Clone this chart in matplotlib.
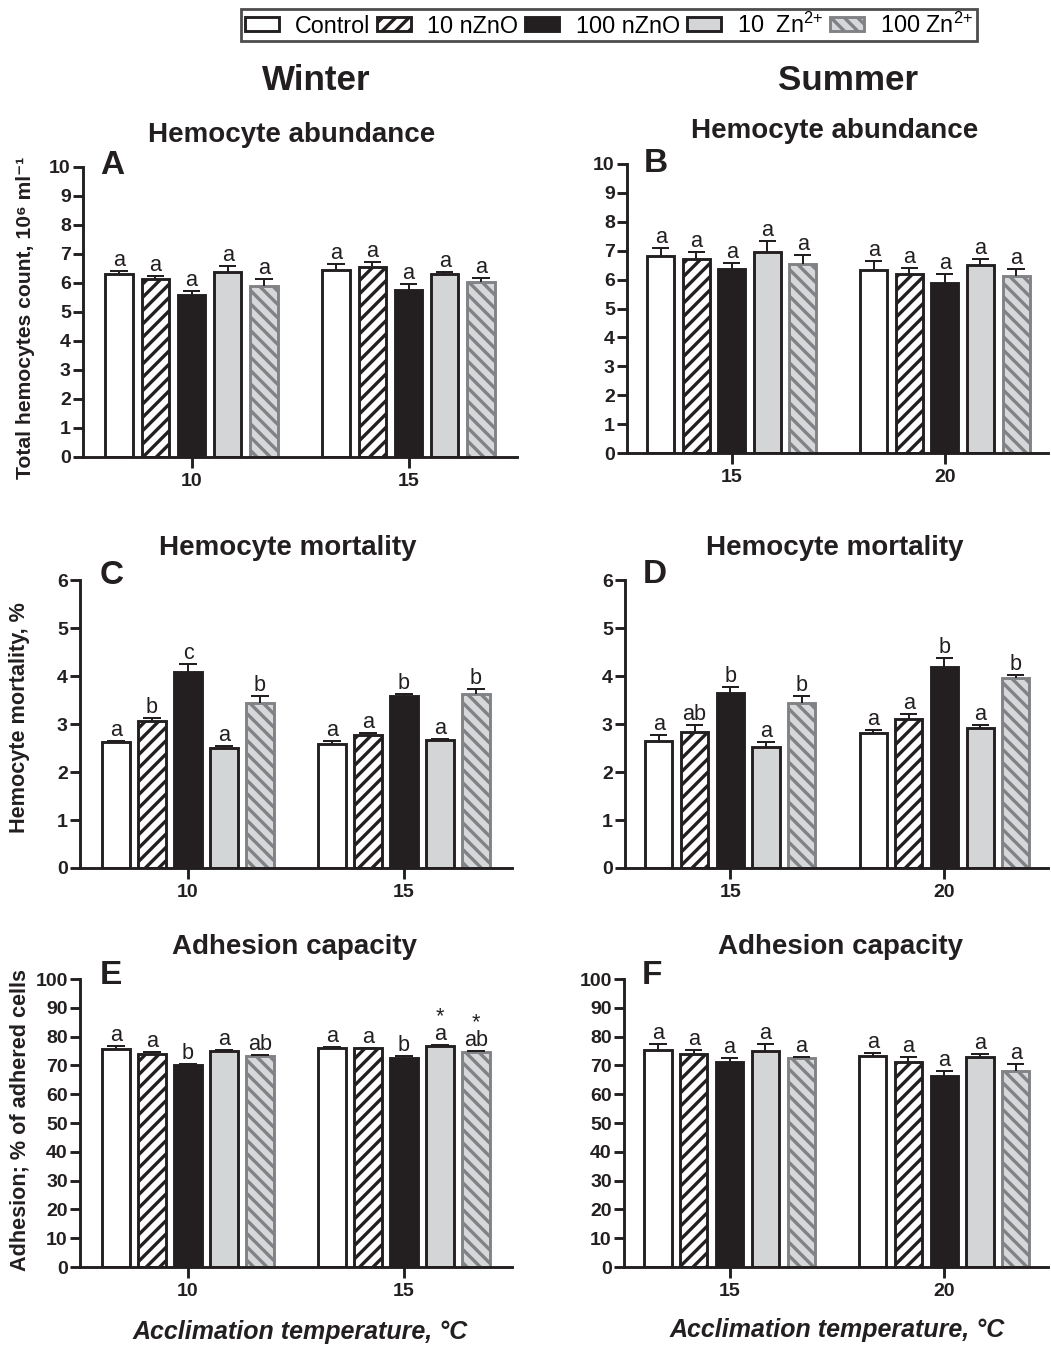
import numpy as np
import matplotlib.pyplot as plt
from matplotlib.patches import Patch

plt.rcParams['font.family'] = ['Liberation Sans', 'DejaVu Sans']
plt.rcParams['mathtext.fontset'] = 'custom'
plt.rcParams['mathtext.rm'] = 'Liberation Sans'
plt.rcParams['mathtext.it'] = 'Liberation Sans:italic'
plt.rcParams['mathtext.bf'] = 'Liberation Sans:bold'
plt.rcParams['mathtext.default'] = 'regular'
plt.rcParams['hatch.linewidth'] = 3.0

W, H, DPI = 1052, 1345, 80
ink = '#231f20'
gray_edge = '#808285'

# ---- data ----
treatments = ['Control', '10 nZnO', '100 nZnO', '10  Zn$^{2{+}}$', '100 Zn$^{2{+}}$']
temps_winter = ['10', '15']
temps_summer = ['15', '20']

abund_w = [[6.30, 6.15, 5.57, 6.37, 5.88], [6.45, 6.55, 5.75, 6.32, 6.02]]
abund_w_err = [[0.10, 0.08, 0.14, 0.22, 0.25], [0.20, 0.18, 0.20, 0.05, 0.14]]
abund_s = [[6.81, 6.72, 6.35, 6.95, 6.55], [6.33, 6.19, 5.89, 6.51, 6.13]]
abund_s_err = [[0.27, 0.23, 0.23, 0.39, 0.29], [0.32, 0.22, 0.30, 0.20, 0.23]]

mort_w = [[2.62, 3.07, 4.08, 2.51, 3.44], [2.58, 2.78, 3.58, 2.66, 3.63]]
mort_w_err = [[0.02, 0.06, 0.16, 0.04, 0.14], [0.06, 0.03, 0.05, 0.03, 0.10]]
mort_s = [[2.64, 2.83, 3.64, 2.52, 3.43], [2.82, 3.11, 4.19, 2.91, 3.95]]
mort_s_err = [[0.14, 0.14, 0.13, 0.11, 0.16], [0.06, 0.09, 0.18, 0.06, 0.07]]

adh_w = [[75.6, 74.1, 70.1, 75.1, 73.3], [76.2, 75.9, 72.7, 76.9, 74.7]]
adh_w_err = [[1.0, 0.5, 0.4, 0.2, 0.2], [0.2, 0.3, 0.7, 0.3, 0.2]]
adh_s = [[75.3, 74.0, 71.3, 75.1, 72.5], [73.2, 71.3, 66.3, 73.0, 68.1]]
adh_s_err = [[2.2, 1.3, 1.4, 2.4, 0.3], [1.0, 1.7, 1.8, 1.0, 2.4]]

all_a = [['a'] * 5, ['a'] * 5]
mort_w_let = [['a', 'b', 'c', 'a', 'b'], ['a', 'a', 'b', 'a', 'b']]
mort_s_let = [['a', 'ab', 'b', 'a', 'b'], ['a', 'a', 'b', 'a', 'b']]
adh_w_let = [['a', 'a', 'b', 'a', 'ab'], ['a', 'a', 'b', '*\na', '*\nab']]

styles = [
    dict(facecolor='white', edgecolor=ink),
    dict(facecolor='white', edgecolor=ink, hatch='//'),
    dict(facecolor=ink, edgecolor=ink),
    dict(facecolor='#d4d5d7', edgecolor=ink),
    dict(facecolor='#d6d7d9', edgecolor=gray_edge, hatch='\\\\'),
]


def box(x0, x1, ytop, ybot):
    return [x0 / W, 1 - ybot / H, (x1 - x0) / W, (ybot - ytop) / H]


def ftext(x, y, s, **kw):
    fig.text(x / W, 1 - y / H, s, **kw)


def panel(ax, vals, errs, letters, temps, ymax, ystep, xlim):
    for g in range(2):
        for i in range(5):
            x = g * 6 + (i - 2)
            v, e = vals[g][i], errs[g][i]
            ax.bar(x, v, width=0.76, linewidth=2.6, zorder=1, **styles[i])
            ax.vlines(x, v, v + e, color=ink, lw=1.8, zorder=2)
            ax.hlines(v + e, x - 0.24, x + 0.24, color=ink, lw=1.8, zorder=2)
            ax.annotate(letters[g][i], (x, v + e), xytext=(0, 0),
                        textcoords='offset points', ha='center', va='bottom',
                        fontsize=19.5, linespacing=0.8, color=ink)
    ax.set_xlim(*xlim)
    ax.set_ylim(0, ymax)
    ax.set_yticks(np.arange(0, ymax + ystep / 2, ystep))
    ax.set_xticks([0, 6])
    ax.set_xticklabels(temps)
    for s in ['top', 'right']:
        ax.spines[s].set_visible(False)
    for s in ['left', 'bottom']:
        ax.spines[s].set_linewidth(2.6)
        ax.spines[s].set_color(ink)
    ax.tick_params(axis='y', width=2.6, length=9, pad=2, labelsize=17.5, color=ink)
    ax.tick_params(axis='x', width=2.6, length=10, pad=4, labelsize=17.5, color=ink)
    for lab in ax.get_xticklabels() + ax.get_yticklabels():
        lab.set_fontweight('bold')
        lab.set_color(ink)


fig = plt.figure(figsize=(W / DPI, H / DPI), dpi=DPI)

xl_left = (-3.0, 9.0)
xl_right = (-2.95, 8.9)

axA = fig.add_axes(box(83, 517, 167, 457))
panel(axA, abund_w, abund_w_err, all_a, temps_winter, 10, 1, xl_left)
axB = fig.add_axes(box(627, 1048, 164, 453))
panel(axB, abund_s, abund_s_err, all_a, temps_summer, 10, 1, xl_right)
axC = fig.add_axes(box(80, 512, 580, 868))
panel(axC, mort_w, mort_w_err, mort_w_let, temps_winter, 6, 1, xl_left)
axD = fig.add_axes(box(625, 1048, 580, 868))
panel(axD, mort_s, mort_s_err, mort_s_let, temps_summer, 6, 1, xl_right)
axE = fig.add_axes(box(80, 512, 979, 1267))
panel(axE, adh_w, adh_w_err, adh_w_let, temps_winter, 100, 10, xl_left)
axF = fig.add_axes(box(624, 1048, 979, 1267))
panel(axF, adh_s, adh_s_err, all_a, temps_summer, 100, 10, xl_right)

# panel letters
for (x, y), s in zip([(100, 166), (644, 164), (100, 576), (643, 575), (100, 976), (642, 975)],
                     'ABCDEF'):
    ftext(x, y, s, fontsize=30, fontweight='bold', ha='left', va='center', color=ink)

# season headers and panel titles
ftext(316, 80, 'Winter', fontsize=31.5, fontweight='bold', ha='center', va='center', color=ink)
ftext(848, 80, 'Summer', fontsize=31.5, fontweight='bold', ha='center', va='center', color=ink)
for (x, y), s in zip([(292, 135), (835, 131), (288, 548), (835, 548), (295, 947), (840, 947)],
                     ['Hemocyte abundance', 'Hemocyte abundance', 'Hemocyte mortality',
                      'Hemocyte mortality', 'Adhesion capacity', 'Adhesion capacity']):
    ftext(x, y, s, fontsize=25, fontweight='bold', ha='center', va='center', color=ink)

# y labels
ftext(26, 318, 'Total hemocytes count, 10⁶ ml⁻¹', fontsize=19, fontweight='bold',
      rotation=90, ha='center', va='center', color=ink)
ftext(20, 718, 'Hemocyte mortality, %', fontsize=19.5, fontweight='bold',
      rotation=90, ha='center', va='center', color=ink)
ftext(20, 1120, 'Adhesion; % of adhered cells', fontsize=19.5, fontweight='bold',
      rotation=90, ha='center', va='center', color=ink)

# x labels
ftext(300, 1332, 'Acclimation temperature, °C', fontsize=22.5, fontweight='bold',
      style='italic', ha='center', va='center', color=ink)
ftext(837, 1330, 'Acclimation temperature, °C', fontsize=22.5, fontweight='bold',
      style='italic', ha='center', va='center', color=ink)

# legend
handles = [Patch(linewidth=2.6, **st) for st in styles]
leg = fig.legend(handles, treatments, loc='center', ncol=5,
                 bbox_to_anchor=(609 / W, 1 - 25 / H), fontsize=21,
                 handlelength=1.45, handleheight=0.55, handletextpad=0.7,
                 columnspacing=0.3, borderpad=0.15, borderaxespad=0,
                 fancybox=False, frameon=True)
leg.get_frame().set_edgecolor(ink)
leg.get_frame().set_linewidth(2.5)

fig.savefig('out.png', dpi=DPI)
